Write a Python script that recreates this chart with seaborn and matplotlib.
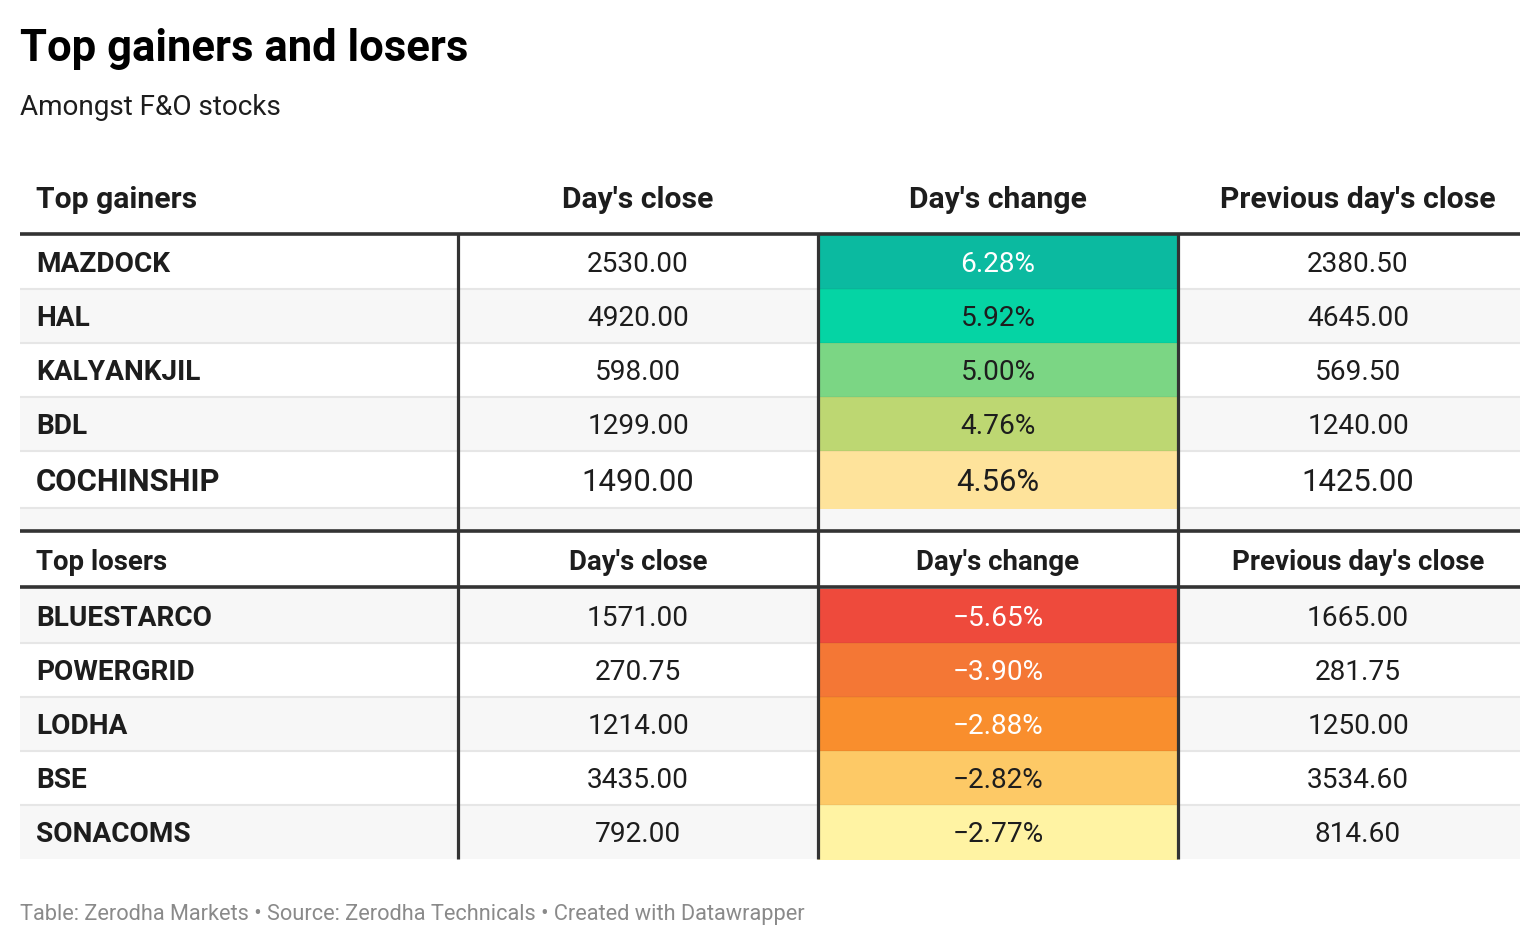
import numpy as np
import pandas as pd
import seaborn as sns
import matplotlib
matplotlib.use("Agg")
import matplotlib.pyplot as plt

# ---------------- data ----------------
title = "Top gainers and losers"
subtitle = "Amongst F&O stocks"
footer = "Table: Zerodha Markets \u2022 Source: Zerodha Technicals \u2022 Created with Datawrapper"
col_headers = ["Day's close", "Day's change", "Previous day's close"]

gainers = ["MAZDOCK", "HAL", "KALYANKJIL", "BDL", "COCHINSHIP"]
gainers_close = [2530.00, 4920.00, 598.00, 1299.00, 1490.00]
gainers_change = [6.28, 5.92, 5.00, 4.76, 4.56]
gainers_prev = [2380.50, 4645.00, 569.50, 1240.00, 1425.00]

losers = ["BLUESTARCO", "POWERGRID", "LODHA", "BSE", "SONACOMS"]
losers_close = [1571.00, 270.75, 1214.00, 3435.00, 792.00]
losers_change = [-5.65, -3.90, -2.88, -2.82, -2.77]
losers_prev = [1665.00, 281.75, 1250.00, 3534.60, 814.60]

# ---------------- styles ----------------
gain_colors = ["#0bbaa0", "#05d4a4", "#7bd684", "#bdd772", "#fee39b"]
loss_colors = ["#ee4a3c", "#f47735", "#f98e2d", "#fdc966", "#fff3a3"]
gain_text = ["white", "#1d1d1d", "#1d1d1d", "#1d1d1d", "#1d1d1d"]
loss_text = ["white", "white", "white", "#1d1d1d", "#1d1d1d"]

sns.set_theme(style="white")
plt.rcParams["font.family"] = ["Roboto", "DejaVu Sans"]

W, H, DPI = 1540, 946, 100
fig = plt.figure(figsize=(W / DPI, H / DPI), dpi=DPI, facecolor="white")
ax = fig.add_axes([0, 0, 1, 1])
ax.set_xlim(0, W)
ax.set_ylim(H, 0)
ax.axis("off")

TXT = "#1d1d1d"
STRIPE = "#f7f7f7"
SEP = "#e6e6e6"
DARK = "#333333"

# font sizes (pt)
FS_TITLE, FS_SUB, FS_HEAD1, FS_HEAD2 = 31.4, 20.1, 21.7, 19.9
FS_BODY, FS_BIG, FS_FOOT = 20.2, 22.3, 15.7

# column layout (pixels)
table_left, table_right = 20, 1520
col_w = [438, 360, 360, 360]
col_left = np.concatenate([[table_left], table_left + np.cumsum(col_w)[:-1]])
col_center = col_left + np.array(col_w) / 2
text_x0 = table_left + 16

# row layout (pixels)
top = 170
h_head1, gap1, h_body, h_big, h_spacer, h_head2, gap2 = 64, 1, 54, 57, 23, 56, 2
gain_h = [h_body] * 4 + [h_big]

y = top
head1 = (y, y + h_head1); y += h_head1
line1 = y; y += gap1
gain_rows = []
for h in gain_h:
    gain_rows.append((y, y + h)); y += h
spacer = (y, y + h_spacer); y += h_spacer
line2 = y
head2 = (y, y + h_head2); y += h_head2
line3 = y; y += gap2
loss_rows = []
for _ in losers:
    loss_rows.append((y, y + h_body)); y += h_body
table_bottom = y

full_w = table_right - table_left

# stripes (backgrounds)
gain_stripe = [i % 2 == 1 for i in range(len(gainers))]
loss_stripe = [i % 2 == 0 for i in range(len(losers))]
for (a, b), s in zip(gain_rows, gain_stripe):
    ax.barh((a + b) / 2, full_w, left=table_left, height=b - a,
            color=STRIPE if s else "white", linewidth=0, zorder=1)
ax.barh(sum(spacer) / 2, full_w, left=table_left, height=spacer[1] - spacer[0],
        color=STRIPE, linewidth=0, zorder=1)
for (a, b), s in zip(loss_rows, loss_stripe):
    ax.barh((a + b) / 2, full_w, left=table_left, height=b - a,
            color=STRIPE if s else "white", linewidth=0, zorder=1)

# light separators
for (a, b) in gain_rows:
    ax.hlines(b, table_left, table_right, color=SEP, lw=1.5, zorder=2)
for (a, b) in loss_rows[:-1]:
    ax.hlines(b, table_left, table_right, color=SEP, lw=1.5, zorder=2)

# coloured change cells
for (a, b), c in zip(gain_rows, gain_colors):
    ax.barh((a + b) / 2, col_w[2], left=col_left[2], height=b - a + 1.0,
            color=c, linewidth=0, zorder=3)
for (a, b), c in zip(loss_rows, loss_colors):
    ax.barh((a + b) / 2, col_w[2], left=col_left[2], height=b - a + 1.0,
            color=c, linewidth=0, zorder=3)
# faint separators inside the coloured column
for (a, b) in gain_rows[:-1] + loss_rows[:-1]:
    ax.hlines(b, col_left[2], col_left[3], color="black", alpha=0.04, lw=1.2, zorder=4)

# thick rules
for ly in (line1, line2, line3):
    ax.hlines(ly, table_left, table_right, color=DARK, lw=2.6, zorder=5)
# vertical rules
for vx in col_left[1:]:
    ax.vlines(vx, line1, table_bottom, color=DARK, lw=2.3, zorder=5)

# ---------- text ----------
ax.text(20, 61, title, fontsize=FS_TITLE, fontweight="bold", color="black", va="baseline")
ax.text(20, 115, subtitle, fontsize=FS_SUB, color=TXT, va="baseline")

def row_text(y0, y1, name, vals, chg, chg_color, size):
    yc = (y0 + y1) / 2 - 0.5
    ax.text(text_x0, yc, name, fontsize=size, fontweight="bold", color=TXT,
            va="center_baseline", ha="left", zorder=6)
    ax.text(col_center[1], yc, f"{vals[0]:.2f}", fontsize=size, color=TXT,
            va="center_baseline", ha="center", zorder=6)
    s = f"{chg:.2f}%".replace("-", "\u2212")
    ax.text(col_center[2], yc, s, fontsize=size, color=chg_color,
            va="center_baseline", ha="center", zorder=6)
    ax.text(col_center[3], yc, f"{vals[1]:.2f}", fontsize=size, color=TXT,
            va="center_baseline", ha="center", zorder=6)

# headers
hy1 = head1[1] - 37
ax.text(text_x0, hy1, "Top gainers", fontsize=FS_HEAD1, fontweight="bold", color=TXT,
        va="center_baseline")
for i, hname in enumerate(col_headers):
    ax.text(col_center[i + 1], hy1, hname, fontsize=FS_HEAD1, fontweight="bold",
            color=TXT, va="center_baseline", ha="center")
hy2 = sum(head2) / 2
ax.text(text_x0, hy2, "Top losers", fontsize=FS_HEAD2, fontweight="bold", color=TXT,
        va="center_baseline", zorder=6)
for i, hname in enumerate(col_headers):
    ax.text(col_center[i + 1], hy2, hname, fontsize=FS_HEAD2, fontweight="bold",
            color=TXT, va="center_baseline", ha="center", zorder=6)

for k, (r, n) in enumerate(zip(gain_rows, gainers)):
    size = FS_BIG if k == len(gainers) - 1 else FS_BODY
    row_text(r[0], r[1], n, (gainers_close[k], gainers_prev[k]),
             gainers_change[k], gain_text[k], size)
for k, (r, n) in enumerate(zip(loss_rows, losers)):
    row_text(r[0], r[1], n, (losers_close[k], losers_prev[k]),
             losers_change[k], loss_text[k], FS_BODY)

ax.text(20, 920, footer, fontsize=FS_FOOT, color="#8a8a8a", va="baseline")

fig.savefig("out.png", dpi=DPI, facecolor="white")
